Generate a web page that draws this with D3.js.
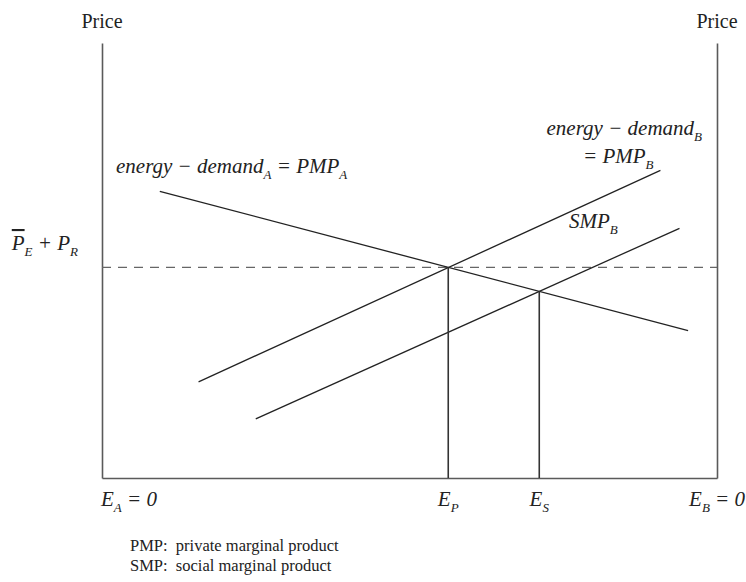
<!DOCTYPE html>
<html>
<head>
<meta charset="utf-8">
<script src="https://cdn.jsdelivr.net/npm/d3@7"></script>
<style>
  body { margin: 0; background: #fff; }
  text { font-family: "Liberation Serif", "DejaVu Serif", serif; fill: #222; }
</style>
</head>
<body>
<div id="chart"></div>
<script>
// values in chart units (0..100 on both axes)
const priceLevel = 48.4;
const demandA = [{x: 9.4, y: 65.9}, {x: 95.3, y: 33.9}];
const pmpB = [{x: 15.7, y: 22.1}, {x: 90.8, y: 70.7}];
const smpB = [{x: 25.0, y: 13.6}, {x: 93.9, y: 57.4}];
const quantities = [{x: 56.3, top: 48.4}, {x: 71.1, top: 42.9}];
const notes = ["PMP:  private marginal product", "SMP:  social marginal product"];

const width = 746, height = 582;
const margin = {top: 43, right: 29, bottom: 104, left: 102};

let svg = d3.select("#chart").append("svg")
  .attr("width", width)
  .attr("height", height);

let xScale = d3.scaleLinear()
  .domain([0, 100])
  .range([margin.left, width - margin.right]);
let yScale = d3.scaleLinear()
  .domain([0, 100])
  .range([height - margin.bottom, margin.top]);

let line = d3.line().x(d => xScale(d.x)).y(d => yScale(d.y));

// axes: left, right, bottom
let xAxis = d3.axisBottom(xScale).tickValues([]).tickSizeOuter(0);
let yAxisL = d3.axisLeft(yScale).tickValues([]).tickSizeOuter(0);
let yAxisR = d3.axisRight(yScale).tickValues([]).tickSizeOuter(0);

svg.append("g").attr("transform", "translate(0," + yScale(0) + ")").call(xAxis);
svg.append("g").attr("transform", "translate(" + xScale(0) + ",0)").call(yAxisL);
svg.append("g").attr("transform", "translate(" + xScale(100) + ",0)").call(yAxisR);
svg.selectAll(".domain").attr("stroke", "#5a5a5a").attr("stroke-width", 1.6);

// dashed price level
svg.append("line")
  .attr("x1", xScale(0)).attr("x2", xScale(100))
  .attr("y1", yScale(priceLevel)).attr("y2", yScale(priceLevel))
  .attr("stroke", "#666").attr("stroke-width", 1.3)
  .attr("stroke-dasharray", "9,7");

// curves
[demandA, pmpB, smpB].forEach(d => {
  svg.append("path").datum(d)
    .attr("d", line)
    .attr("fill", "none")
    .attr("stroke", "#222")
    .attr("stroke-width", 1.3);
});

// vertical drops
svg.selectAll(".drop").data(quantities).enter()
  .append("line")
  .attr("class", "drop")
  .attr("x1", d => xScale(d.x)).attr("x2", d => xScale(d.x))
  .attr("y1", d => yScale(d.top)).attr("y2", yScale(0))
  .attr("stroke", "#333").attr("stroke-width", 1.6);

// rich label helper: parts = [text, "sub"|"", overline?]
function label(x, y, parts, anchor, size, italic) {
  let t = svg.append("text")
    .attr("x", x).attr("y", y)
    .attr("text-anchor", anchor || "start")
    .style("font-size", size + "px")
    .style("font-style", italic ? "italic" : "normal");
  let shifted = false;
  parts.forEach(p => {
    let ts = t.append("tspan").text(p[0]);
    if (p[1] === "sub") {
      ts.attr("dy", shifted ? 0 : size * 0.28).style("font-size", (size * 0.62) + "px");
      shifted = true;
    } else if (shifted) {
      ts.attr("dy", -size * 0.28);
      shifted = false;
    }
    if (p[2]) ts.style("text-decoration", "overline");
  });
  return t;
}

svg.append("text").attr("x", xScale(0)).attr("y", 28)
  .attr("text-anchor", "middle").style("font-size", "20px").text("Price");
svg.append("text").attr("x", xScale(100)).attr("y", 28)
  .attr("text-anchor", "middle").style("font-size", "20px").text("Price");

label(78, 250, [["P", "", true], ["E", "sub"], [" + P", ""], ["R", "sub"]], "end", 21, true);
label(116, 173, [["energy − demand", ""], ["A", "sub"], [" = PMP", ""], ["A", "sub"]], "start", 21, true);
label(702, 135, [["energy − demand", ""], ["B", "sub"]], "end", 21, true);
label(583, 163, [["= PMP", ""], ["B", "sub"]], "start", 21, true);
label(569, 228, [["SMP", ""], ["B", "sub"]], "start", 21, true);

label(101, 506, [["E", ""], ["A", "sub"], [" = 0", ""]], "start", 21, true);
label(xScale(quantities[0].x), 506, [["E", ""], ["P", "sub"]], "middle", 21, true);
label(xScale(quantities[1].x), 506, [["E", ""], ["S", "sub"]], "middle", 21, true);
label(745, 506, [["E", ""], ["B", "sub"], [" = 0", ""]], "end", 21, true);

svg.selectAll(".note").data(notes).enter()
  .append("text")
  .attr("class", "note")
  .attr("x", 130)
  .attr("y", (d, i) => 551 + i * 20)
  .style("font-size", "16.5px")
  .style("white-space", "pre")
  .text(d => d);
</script>
</body>
</html>
